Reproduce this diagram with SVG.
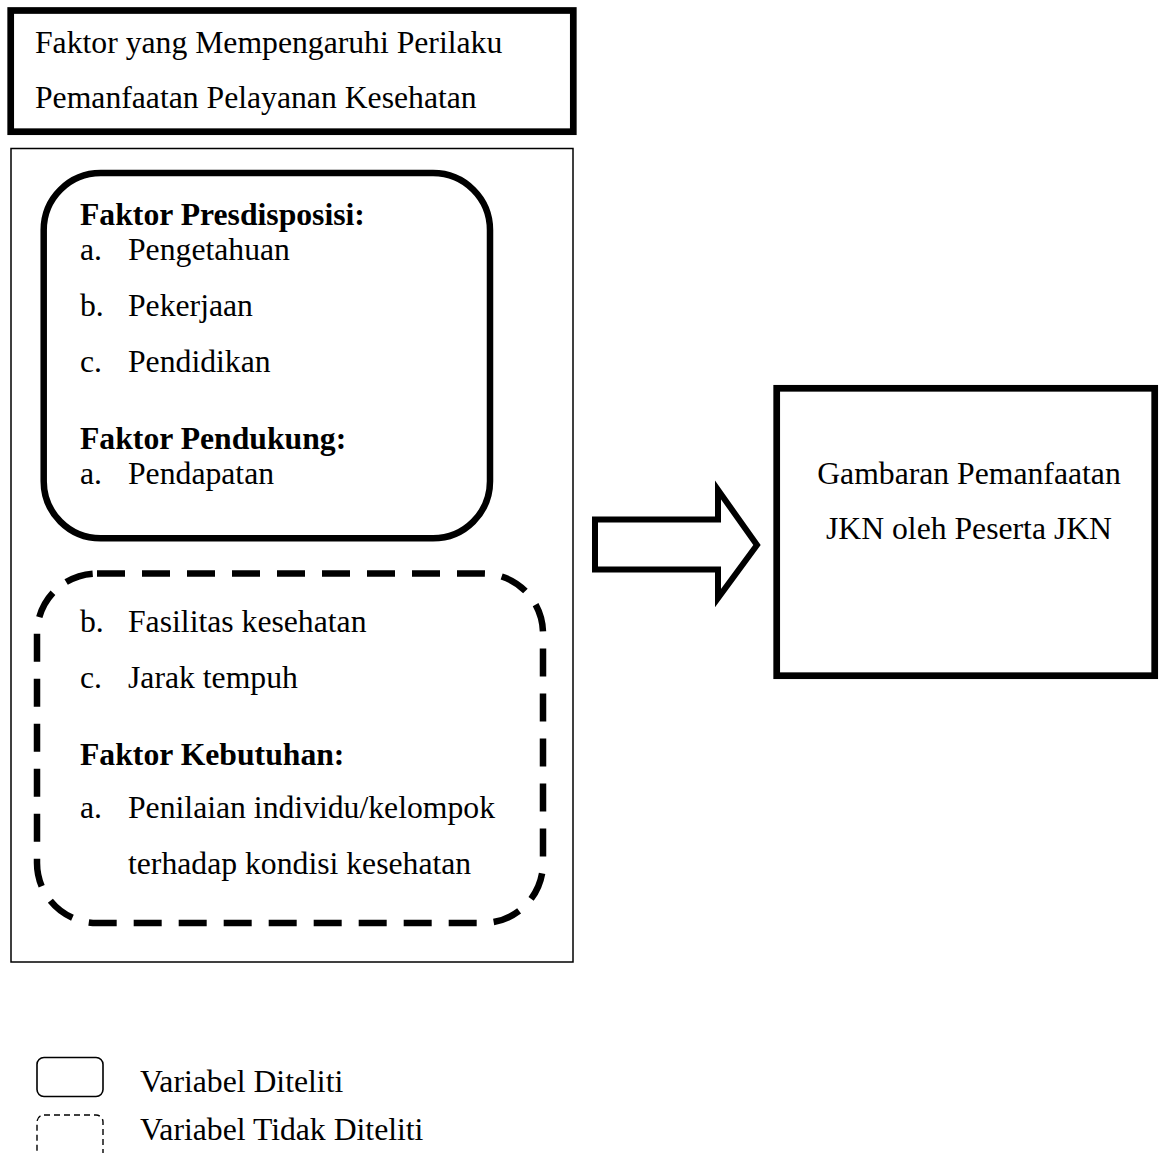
<svg xmlns="http://www.w3.org/2000/svg" width="1160" height="1153" viewBox="0 0 1160 1153">
<style>
text{font-family:"Liberation Serif","Times New Roman",serif;font-size:31.7px;fill:#000}
.b{font-weight:bold}
.thick{fill:#fff;stroke:#000;stroke-width:6.7}
.thin{fill:none;stroke:#000;stroke-width:1.5}
.dash{fill:none;stroke:#000;stroke-width:6.5;stroke-dasharray:28 17}
</style>
<rect width="1160" height="1153" fill="#fff"/>
<g id="title">
<rect class="thick" x="10.7" y="10.5" width="562.6" height="121.2"/>
<text x="35" y="53">Faktor yang Mempengaruhi Perilaku</text>
<text x="35" y="108">Pemanfaatan Pelayanan Kesehatan</text>
</g>
<g id="container">
<rect class="thin" x="11" y="148.5" width="562" height="813.5"/>
</g>
<g id="diteliti">
<rect x="43.7" y="173" width="446.3" height="365.3" rx="57" fill="none" stroke="#000" stroke-width="6.5"/>
<text class="b" x="80" y="225">Faktor Presdisposisi:</text>
<text x="80" y="260">a.</text><text x="128" y="260">Pengetahuan</text>
<text x="80" y="316">b.</text><text x="128" y="316">Pekerjaan</text>
<text x="80" y="372">c.</text><text x="128" y="372">Pendidikan</text>
<text class="b" x="80" y="449">Faktor Pendukung:</text>
<text x="80" y="484">a.</text><text x="128" y="484">Pendapatan</text>
</g>
<g id="tidak-diteliti">
<rect class="dash" x="37" y="573.5" width="506" height="349.5" rx="60"/>
<text x="80" y="632">b.</text><text x="128" y="632">Fasilitas kesehatan</text>
<text x="80" y="688">c.</text><text x="128" y="688">Jarak tempuh</text>
<text class="b" x="80" y="765">Faktor Kebutuhan:</text>
<text x="80" y="818">a.</text><text x="128" y="818">Penilaian individu/kelompok</text>
<text x="128" y="874">terhadap kondisi kesehatan</text>
</g>
<g id="connectors">
<path d="M595,519.5 H718 V490 L757,545 L718,598 V569.5 H595 Z" fill="#fff" stroke="#000" stroke-width="6" stroke-linejoin="miter"/>
</g>
<g id="outcome">
<rect class="thick" x="776.7" y="388.3" width="378" height="287.4"/>
<text x="969" y="484" text-anchor="middle">Gambaran Pemanfaatan</text>
<text x="969" y="539" text-anchor="middle">JKN oleh Peserta JKN</text>
</g>
<g id="legend">
<rect x="37" y="1057.5" width="66" height="39" rx="7" fill="none" stroke="#000" stroke-width="1.6"/>
<rect x="37" y="1115" width="66" height="60" rx="7" fill="none" stroke="#000" stroke-width="1.4" stroke-dasharray="6 4"/>
<text x="140" y="1092">Variabel Diteliti</text>
<text x="140" y="1140">Variabel Tidak Diteliti</text>
</g>
</svg>
